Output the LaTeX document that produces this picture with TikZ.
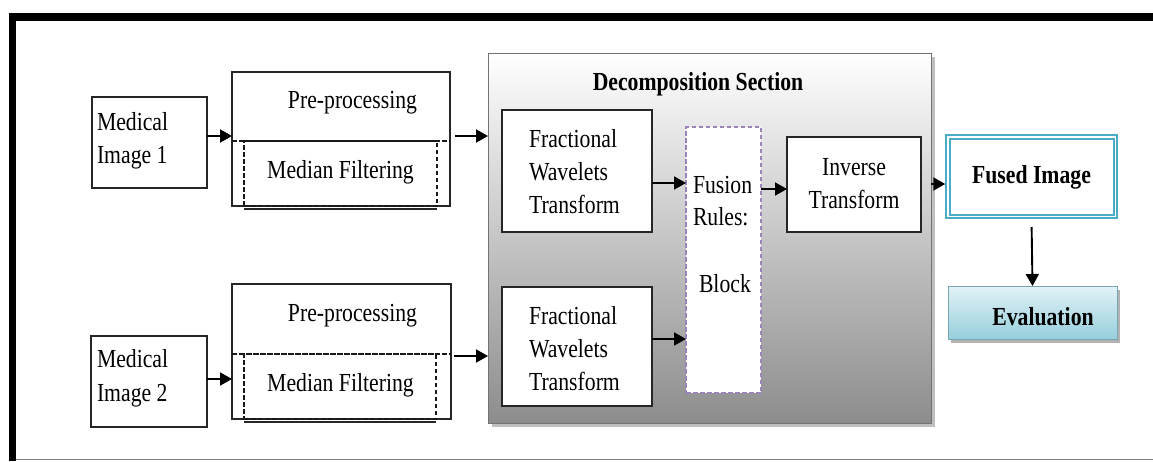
\documentclass[tikz,border=0pt]{standalone}
\usepackage{fontspec}
\setmainfont[FakeStretch=0.835]{Liberation Serif}
\usetikzlibrary{arrows.meta}
\definecolor{tealb}{HTML}{4BACC6}
\definecolor{purp}{HTML}{9A84BA}
\definecolor{evlight}{HTML}{E2F2F6}
\definecolor{evdark}{HTML}{96CFDD}
\begin{document}
\begin{tikzpicture}[x=1pt,y=-1pt,
  every node/.style={inner sep=0pt, outer sep=0pt},
  txt/.style={font=\fontsize{26}{33}\selectfont, anchor=base west},
  txtc/.style={font=\fontsize{26}{33}\selectfont, anchor=base},
  btxt/.style={font=\bfseries\fontsize{26}{33}\selectfont, anchor=base},
  blk/.style={draw=black!85, line width=1.8pt, fill=white},
  prebox/.style={draw=black!85, line width=1.2pt, fill=white},
  dbox/.style={draw=black!90, dashed, dash pattern=on 4.5pt off 2.5pt, line width=1.1pt},
  arr/.style={line width=1.9pt, -{Triangle[length=12pt,width=13pt]}},
]
\useasboundingbox (0,0) rectangle (1153,461);
% outer frame
\fill[black] (9,13) rectangle (1153,21);
\fill[black] (9,13) rectangle (16,461);
\draw[black!50, line width=1pt] (16,459.5) -- (1153,459.5);

% medical images
\node[blk, minimum width=115, minimum height=91] (med1) at (149.5,142.5) {};
\node[blk, minimum width=116, minimum height=91] (med2) at (149,381.5) {};
\node[txt] (m1a) at (97,130) {Medical};
\node[txt] (m1b) at (97,163) {Image 1};
\node[txt] (m2a) at (97,367) {Medical};
\node[txt] (m2b) at (97,401) {Image 2};

% pre-processing 1
\node[prebox, minimum width=218, minimum height=134] (pre1) at (341,139) {};
\draw[dbox] (pre1.west |- 0,141) -- (pre1.east |- 0,141);
\node[dbox, minimum width=193, minimum height=65] (mf1) at (340.5,173.5) {};
\draw[black!85, line width=1.2pt] ([yshift=-3pt]mf1.south west) -- ([yshift=-3pt]mf1.south east);
\node[txtc] (p1t) at (352.5,108) {Pre-processing};
\node[txtc] (f1t) at (340.5,178) {Median Filtering};

% pre-processing 2
\node[prebox, minimum width=219, minimum height=135] (pre2) at (341.5,351.5) {};
\draw[dbox] (pre2.west |- 0,354) -- (pre2.east |- 0,354);
\node[dbox, minimum width=192, minimum height=65] (mf2) at (340,386.5) {};
\draw[black!85, line width=1.2pt] ([yshift=-3pt]mf2.south west) -- ([yshift=-3pt]mf2.south east);
\node[txtc] (p2t) at (352.5,321) {Pre-processing};
\node[txtc] (f2t) at (340.5,391) {Median Filtering};

% decomposition section
\fill[black!25] (492,57) rectangle (935,427);
\node[draw=black!55, line width=1pt, top color=white, bottom color=black!45,
      minimum width=443, minimum height=370] (dec) at (709.5,238) {};
\node[btxt] (dect) at (698,90) {Decomposition Section};

\node[blk, line width=2pt, minimum width=150, minimum height=122] (fw1) at (577,171) {};
\node[blk, line width=2pt, minimum width=150, minimum height=119] (fw2) at (577,346.5) {};
\node[txt] (fw1a) at (529,147) {Fractional};
\node[txt] (fw1b) at (529,180) {Wavelets};
\node[txt] (fw1c) at (529,213) {Transform};
\node[txt] (fw2a) at (529,324) {Fractional};
\node[txt] (fw2b) at (529,357) {Wavelets};
\node[txt] (fw2c) at (529,390) {Transform};

\node[draw=purp, fill=white, line width=1.3pt, dash pattern=on 4.5pt off 2.5pt,
      minimum width=75, minimum height=266] (fus) at (723.5,260) {};
\node[txt] (fusa) at (693,193) {Fusion};
\node[txt] (fusb) at (693,225) {Rules:};
\node[txt] (fusc) at (699,292) {Block};

\node[blk, line width=2pt, minimum width=134, minimum height=95] (inv) at (854,184.5) {};
\node[txtc] (inva) at (854,175) {Inverse};
\node[txtc] (invb) at (854,208) {Transform};

% fused image and evaluation
\node[draw=tealb, line width=2pt, double=white, double distance=1.5pt,
      minimum width=167.5, minimum height=79.5] (fused) at (1031.5,176.5) {};
\node[btxt] (fusedt) at (1031.5,183) {Fused Image};

\fill[black!30] (951,290) rectangle (1120,343);
\node[draw=evdark!80!black, line width=0.6pt, top color=evlight, bottom color=evdark,
      minimum width=169, minimum height=53] (ev) at (1032.5,312.5) {};
\node[btxt] (evt) at (1043,325) {Evaluation};

% connectors
\draw[arr] (med1.east |- 0,136) -- (pre1.west |- 0,136);
\draw[arr] (med2.east |- 0,379) -- (pre2.west |- 0,379);
\draw[arr, shorten <=5pt] (pre1.east |- 0,136) -- (dec.west |- 0,136);
\draw[arr, shorten <=3pt] (pre2.east |- 0,356) -- (dec.west |- 0,356);
\draw[arr] (fw1.east |- 0,183) -- (fus.west |- 0,183);
\draw[arr] (fw2.east |- 0,339) -- (fus.west |- 0,339);
\draw[arr] (fus.east |- 0,189) -- (inv.west |- 0,189);
\draw[arr] (dec.east |- 0,184) -- ([xshift=-2.5pt]fused.west |- 0,184);
\draw[arr, shorten <=8pt] (fused.south |- 0,219) -- (ev.north);
\end{tikzpicture}
\end{document}
